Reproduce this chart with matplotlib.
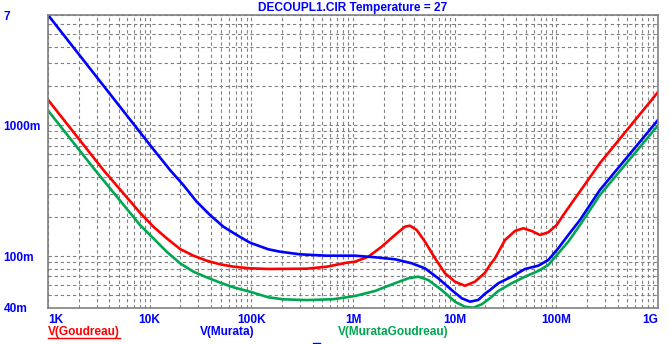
import matplotlib.pyplot as plt
from matplotlib.lines import Line2D

# frequency (Hz) / voltage (V)
freq_goudreau = [1e3, 3.5e3, 8.03e3, 10.86e3, 14.7e3, 19.9e3, 26.9e3, 36.4e3, 49.2e3, 66.5e3,
                 97e3, 146.8e3, 351e3, 551e3, 867e3, 1.046e6, 1.414e6, 1.915e6, 2.588e6,
                 3.247e6, 3.636e6, 4.23e6, 5.105e6, 6.405e6, 8.03e6, 10.07e6, 12.63e6,
                 15.85e6, 19.88e6, 22.26e6, 24.93e6, 31.26e6, 39.2e6, 47.3e6, 57.2e6,
                 69.1e6, 83.4e6, 100.8e6, 117.1e6, 268e6, 1e9]
v_goudreau = [1.57, 0.456, 0.2147, 0.1678, 0.1367, 0.1132, 0.1006, 0.0921, 0.0864, 0.0829,
              0.0805, 0.0796, 0.080, 0.0828, 0.0889, 0.0905, 0.0988, 0.1179, 0.1449,
              0.1678, 0.1707, 0.1582, 0.1288, 0.0961, 0.0738, 0.0636, 0.0592,
              0.0636, 0.0745, 0.0854, 0.0961, 0.1326, 0.1555, 0.163, 0.1555,
              0.1449, 0.152, 0.1728, 0.2061, 0.513, 1.80]

freq_murata = [1e3, 10.9e3, 15.85e3, 21.4e3, 29e3, 39.2e3, 53e3, 71.8e3, 97e3, 146.8e3,
               191e3, 301e3, 551e3, 1.046e6, 1.646e6, 2.588e6, 3.78e6, 5.105e6, 6.9e6,
               9.35e6, 11.72e6, 14.15e6, 17.07e6, 19.88e6, 22.26e6, 26.86e6, 36.38e6,
               49.2e6, 66.4e6, 83.4e6, 104.5e6, 131.1e6, 170.9e6, 268e6, 1e9]
v_murata = [7.0, 0.655, 0.4556, 0.350, 0.2606, 0.2061, 0.1678, 0.1449, 0.1265, 0.1126,
            0.108, 0.103, 0.1006, 0.1006, 0.0978, 0.0944, 0.088, 0.0805, 0.0675,
            0.0549, 0.0475, 0.0447, 0.0461, 0.0515, 0.0549, 0.0619, 0.0695,
            0.0796, 0.0843, 0.0933, 0.1146, 0.1449, 0.1888, 0.32, 1.10]

freq_mg = [1e3, 2.9e3, 8.03e3, 10.86e3, 14.7e3, 19.9e3, 26.9e3, 36.4e3, 49.2e3, 66.5e3,
           97e3, 146.8e3, 206e3, 351e3, 640e3, 1.046e6, 1.646e6, 2.588e6, 3.5e6, 4.387e6,
           5.503e6, 7.455e6, 10.07e6, 12.63e6, 15.24e6, 18.44e6, 22.26e6, 26.86e6,
           36.38e6, 49.2e6, 66.4e6, 83.4e6, 104.5e6, 131.1e6, 170.9e6, 268e6, 1e9]
v_mg = [1.30, 0.456, 0.1728, 0.1367, 0.1079, 0.0880, 0.0759, 0.0687, 0.0626, 0.0576,
        0.0533, 0.0483, 0.0466, 0.046, 0.0467, 0.0494, 0.054, 0.0619, 0.0675, 0.0695,
        0.0655, 0.0549, 0.0447, 0.0409, 0.0402, 0.0427, 0.0475, 0.054,
        0.0619, 0.0695, 0.0768, 0.0854, 0.1049, 0.1288, 0.1728, 0.293, 1.0]

x_ticks = [1e3, 1e4, 1e5, 1e6, 1e7, 1e8, 1e9]
x_labels = ['1K', '10K', '100K', '1M', '10M', '100M', '1G']
y_ticks = [0.04, 0.1, 1.0, 7.0]
y_labels = ['40m', '100m', '1000m', '7']

RED = '#ff0000'
BLUE = '#0000ff'
GREEN = '#00a651'
GRID = '#808080'

plt.rcParams['font.family'] = ['Liberation Sans', 'DejaVu Sans']
plt.rcParams['font.weight'] = 'bold'

W, H = 670, 344
fig = plt.figure(figsize=(W / 100, H / 100), dpi=100)
ax = fig.add_axes([48 / W, (H - 308) / H, 610 / W, 293 / H])

ax.plot(freq_goudreau, v_goudreau, color=RED, lw=1.9)
ax.plot(freq_murata, v_murata, color=BLUE, lw=1.9)
ax.plot(freq_mg, v_mg, color=GREEN, lw=1.9)

ax.set_xscale('log')
ax.set_yscale('log')
ax.set_xlim(1e3, 1e9)
ax.set_ylim(0.04, 7.0)

ax.grid(True, which='both', color=GRID, lw=0.8, linestyle=(0, (3, 2.5)))
ax.set_axisbelow(True)
for s in ax.spines.values():
    s.set_color(GRID)
    s.set_linewidth(1.2)

ax.set_xticks(x_ticks)
ax.set_xticklabels(x_labels)
ax.set_yticks(y_ticks)
ax.set_yticklabels(y_labels)
ax.minorticks_on()
ax.tick_params(which='both', length=0)
ax.tick_params(axis='x', which='minor', labelbottom=False)
ax.tick_params(axis='y', which='minor', labelleft=False)
ax.tick_params(axis='x', pad=4, labelsize=8.6, labelcolor=BLUE)
ax.tick_params(axis='y', pad=32, labelsize=8.6, labelcolor=BLUE)
for t in ax.get_yticklabels():
    t.set_horizontalalignment('left')
xl = ax.get_xticklabels()
xl[0].set_horizontalalignment('left')
xl[-1].set_horizontalalignment('right')

fig.text(353 / W, 1 - 7.5 / H, 'DECOUPL1.CIR Temperature = 27', color=BLUE,
         fontsize=8.6, fontweight='bold', ha='center', va='center')

# legend row under the axis
ly = 1 - 332 / H
t1 = fig.text(48 / W, ly, 'V(Goudreau)', color=RED, fontsize=8.6, fontweight='bold', va='center')
fig.text(200 / W, ly, 'V(Murata)', color=BLUE, fontsize=8.6, fontweight='bold', va='center')
fig.text(338 / W, ly, 'V(MurataGoudreau)', color=GREEN, fontsize=8.6, fontweight='bold', va='center')
fig.canvas.draw()
bb = t1.get_window_extent()
fig.lines.append(Line2D([bb.x0 / W, bb.x1 / W], [1 - 338 / H, 1 - 338 / H],
                        color=RED, lw=1, transform=fig.transFigure))
fig.lines.append(Line2D([313 / W, 320 / W], [1 - 343 / H, 1 - 343 / H],
                        color=BLUE, lw=1, transform=fig.transFigure))

fig.savefig('out.png', dpi=100)
